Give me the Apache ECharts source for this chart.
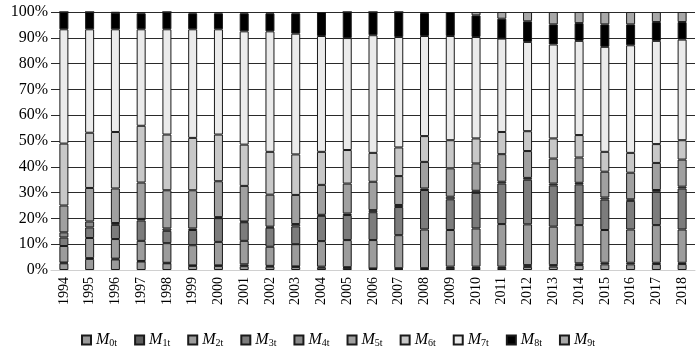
<!DOCTYPE html>
<html>
<head>
<meta charset="utf-8">
<script src="https://cdn.jsdelivr.net/npm/echarts@6/dist/echarts.min.js"></script>
<style>
html,body{margin:0;padding:0;background:#fff;}
#chart{width:700px;height:355px;}
</style>
</head>
<body>
<div id="chart"></div>
<script>
const years = ['1994','1995','1996','1997','1998','1999','2000','2001','2002','2003','2004','2005','2006','2007','2008','2009','2010','2011','2012','2013','2014','2015','2016','2017','2018'];
const seriesNames = ['M0t','M1t','M2t','M3t','M4t','M5t','M6t','M7t','M8t','M9t'];
const m0t = [2.6,4.3,4.1,3.3,2.6,1.6,1.6,1.5,1.3,1.2,0.9,0.8,0.4,0.4,0.4,0.8,0.8,0.8,1.2,1.3,1.9,2.2,2.2,2.3,2.3];
const m1t = [0.3,0.3,0.3,0.2,0.2,0.2,0.2,0.7,0.3,0.2,0.4,0.3,0.2,0.3,0.3,0.5,0.5,0.5,0.7,0.6,0.7,0.6,0.6,0.5,0.5];
const m2t = [6.4,7.8,7.6,7.8,7.6,7.8,9.1,9.1,7.4,8.6,9.9,10.5,11.0,12.8,15.0,14.2,14.8,16.5,15.8,14.9,14.8,12.7,12.9,14.6,12.9];
const m3t = [3.3,4.1,5.5,7.9,4.8,5.9,9.2,7.2,7.4,6.9,9.8,9.7,10.8,10.9,15.3,11.9,13.8,15.7,17.3,16.0,15.8,11.8,11.1,12.9,15.9];
const m4t = [2.0,2.3,0.7,0.6,0.9,0.6,0.4,0.3,0.4,0.9,0.4,0.6,0.8,0.8,0.6,1.0,0.8,0.7,0.7,0.7,0.6,0.8,0.6,0.7,0.7];
const m5t = [10.4,13.0,13.4,14.1,14.8,14.8,13.9,13.8,12.4,11.3,11.6,11.6,11.0,11.2,10.3,11.0,10.6,10.7,10.4,9.7,9.8,10.0,10.3,10.5,10.5];
const m6t = [24.0,21.4,21.9,22.0,21.6,20.3,18.1,16.0,16.6,15.7,12.8,13.0,11.2,11.1,10.0,10.9,9.7,8.6,7.7,7.8,8.7,7.7,7.7,7.3,7.5];
const m7t = [44.3,40.1,39.8,37.4,40.8,42.1,40.8,43.9,46.7,46.8,44.9,43.4,45.6,42.8,38.8,40.4,39.3,36.2,34.6,36.4,36.5,40.7,41.7,40.0,39.0];
const m8t = [6.7,6.7,6.4,6.2,6.7,6.2,6.2,7.0,7.0,7.9,9.3,10.1,9.0,9.7,8.9,9.3,8.4,7.7,8.0,7.8,6.9,8.7,8.1,7.3,6.8];
const m9t = [0,0,0.3,0.5,0,0.5,0.5,0.5,0.5,0.5,0,0,0,0,0.4,0,1.3,2.6,3.6,4.8,4.3,4.8,4.8,3.9,3.9];
const seriesValues = [m0t,m1t,m2t,m3t,m4t,m5t,m6t,m7t,m8t,m9t];
const colors = ['#9a9a9a','#5e5e5e','#9c9c9c','#7c7c7c','#8a8a8a','#a0a0a0','#c8c8c8','#ebebeb','#000000','#a8a8a8'];

// percent share per year
const totals = years.map((_, i) => seriesValues.reduce((s, arr) => s + arr[i], 0));
const series = seriesNames.map((name, k) => ({
  name: name,
  type: 'bar',
  stack: 'total',
  barWidth: 9,
  itemStyle: { color: colors[k], borderColor: '#1a1a1a', borderWidth: 1 },
  emphasis: { disabled: true },
  data: seriesValues[k].map((v, i) => v / totals[i] * 100)
}));

const chart = echarts.init(document.getElementById('chart'), null, { renderer: 'canvas' });
chart.setOption({
  animation: false,
  backgroundColor: '#fff',
  grid: { left: 51, right: 5, top: 12, bottom: 85, containLabel: false },
  legend: {
    data: seriesNames,
    icon: 'rect',
    left: 76, top: 327,
    itemWidth: 9, itemHeight: 9, itemGap: 17,
    formatter: name => '{m|M}{s|' + name.slice(1) + '}',
    textStyle: {
      width: 25,
      rich: {
        m: { fontFamily: 'Liberation Serif', fontStyle: 'italic', fontSize: 16, color: '#000' },
        s: { fontFamily: 'Liberation Serif', fontSize: 10, color: '#000', padding: [7, 0, 0, 0] }
      }
    }
  },
  xAxis: {
    type: 'category',
    data: years,
    axisLine: { show: true, lineStyle: { color: '#d0d0d0', width: 1 } },
    axisTick: { show: false },
    axisLabel: { rotate: 90, margin: 7, fontFamily: 'Liberation Serif', fontSize: 14, color: '#000', interval: 0 }
  },
  yAxis: {
    type: 'value',
    min: 0, max: 100, interval: 10,
    axisLine: { show: false },
    axisTick: { show: false },
    splitLine: { show: true, lineStyle: { color: '#2a2a2a', width: 1 } },
    axisLabel: { formatter: '{value}%', margin: 3, fontFamily: 'Liberation Serif', fontSize: 16, color: '#000' }
  },
  series: series
});
</script>
</body>
</html>
